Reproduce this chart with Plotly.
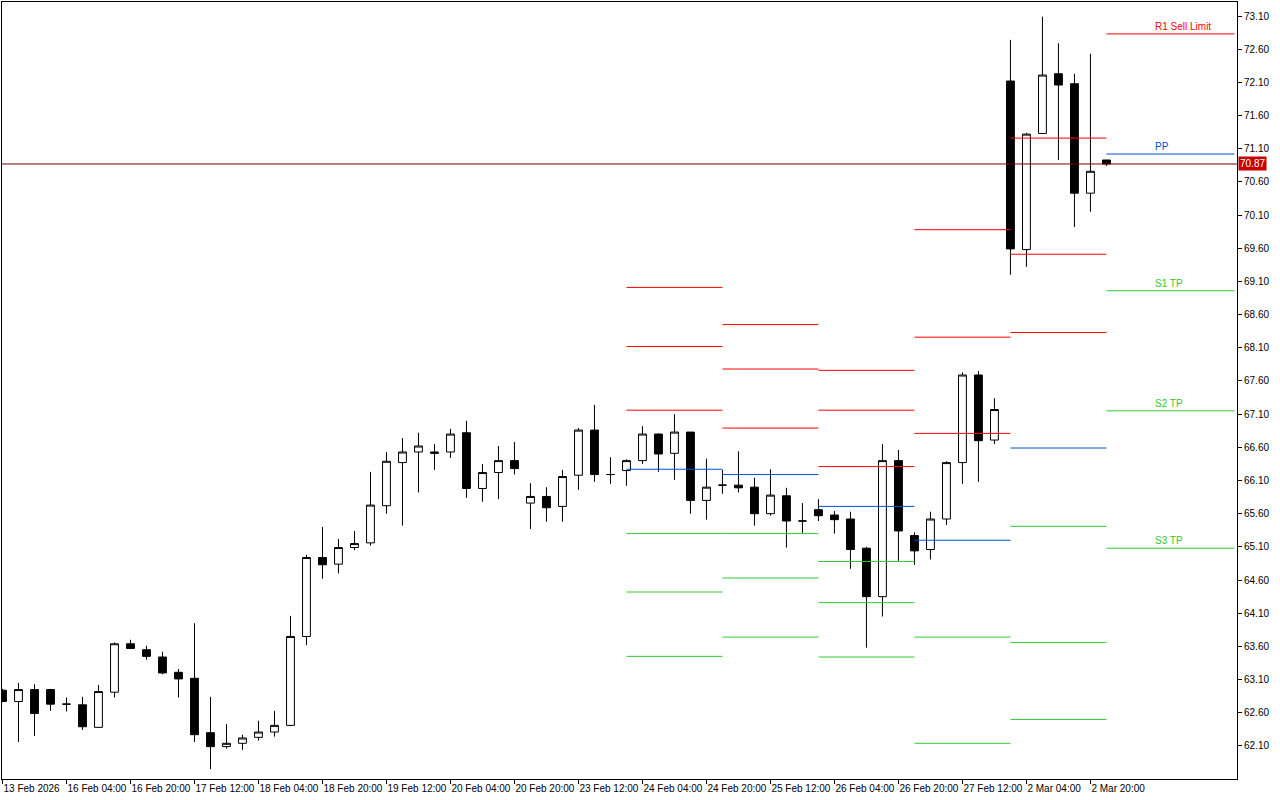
import plotly.graph_objects as go

# H4 candles, index 0 = 13 Feb 2026 12:00 (partly cut at the left edge)
opens = [
    62.94, 62.77, 62.95, 62.95, 62.73, 62.72, 62.38, 62.91, 63.64, 63.55,
    63.44, 63.21, 63.12, 62.30, 62.09, 62.14, 62.23, 62.31, 62.41, 63.75,
    64.94, 64.84, 65.09, 65.16, 65.72, 66.37, 66.53, 66.53, 66.53, 66.82,
    65.98, 66.22, 66.40, 65.76, 65.86, 65.71, 66.18, 66.86, 66.19, 66.25,
    66.40, 66.80, 66.51, 66.83, 65.80, 66.03, 66.03, 66.00, 65.60, 65.87,
    65.49, 65.66, 65.58, 65.52, 65.08, 64.35, 66.40, 65.27, 65.06, 65.52,
    66.37, 67.69, 66.71, 72.12, 69.58, 71.33, 72.23, 72.08, 70.43, 70.93,
]
highs = [
    62.96, 63.05, 63.03, 62.96, 62.83, 62.84, 63.02, 63.66, 63.70, 63.61,
    63.52, 63.26, 63.95, 62.84, 62.43, 62.27, 62.48, 62.63, 64.06, 64.98,
    65.40, 65.22, 65.34, 66.23, 66.53, 66.74, 66.82, 66.65, 66.88, 67.00,
    66.35, 66.62, 66.68, 66.06, 66.00, 66.26, 66.89, 67.24, 66.45, 66.42,
    66.92, 66.81, 67.10, 66.83, 66.43, 66.26, 66.54, 66.14, 66.27, 65.99,
    65.76, 65.82, 65.64, 65.63, 65.10, 66.65, 66.56, 65.32, 65.63, 66.39,
    67.73, 67.75, 67.34, 72.74, 71.34, 73.09, 72.69, 72.23, 72.53, 70.93,
]
lows = [
    62.76, 62.16, 62.25, 62.63, 62.62, 62.34, 62.38, 62.83, 63.56, 63.40,
    63.18, 62.83, 62.16, 61.75, 62.06, 62.04, 62.18, 62.24, 62.40, 63.62,
    64.62, 64.70, 65.05, 65.12, 65.60, 65.42, 65.92, 66.26, 66.44, 65.84,
    65.78, 65.82, 66.19, 65.37, 65.48, 65.48, 65.96, 66.08, 66.05, 66.02,
    66.35, 66.23, 66.11, 65.60, 65.51, 65.90, 65.92, 65.42, 65.57, 65.09,
    65.31, 65.49, 65.30, 64.77, 63.58, 64.05, 64.89, 64.83, 64.91, 65.43,
    66.05, 66.08, 66.65, 69.20, 69.32, 71.33, 70.93, 69.92, 70.15, 70.84,
]
closes = [
    62.77, 62.95, 62.59, 62.73, 62.73, 62.39, 62.92, 63.64, 63.57, 63.45,
    63.20, 63.11, 62.27, 62.09, 62.14, 62.22, 62.31, 62.41, 63.75, 64.94,
    64.83, 65.09, 65.15, 65.73, 66.39, 66.53, 66.62, 66.51, 66.80, 65.98,
    66.22, 66.40, 66.28, 65.86, 65.69, 66.16, 66.86, 66.19, 66.19, 66.40,
    66.80, 66.50, 66.83, 65.80, 66.00, 66.03, 65.99, 65.60, 65.88, 65.49,
    65.49, 65.57, 65.51, 65.06, 64.35, 66.40, 65.34, 65.04, 65.52, 66.37,
    67.69, 66.70, 67.17, 69.59, 71.32, 72.21, 72.06, 70.43, 70.76, 70.87,
]

time_idx = [0, 4, 8, 12, 16, 20, 24, 28, 32, 36, 40, 44, 48, 52, 56, 60, 64, 68]
time_labels = [
    "13 Feb 2026", "16 Feb 04:00", "16 Feb 20:00", "17 Feb 12:00", "18 Feb 04:00",
    "18 Feb 20:00", "19 Feb 12:00", "20 Feb 04:00", "20 Feb 20:00", "23 Feb 12:00",
    "24 Feb 04:00", "24 Feb 20:00", "25 Feb 12:00", "26 Feb 04:00", "26 Feb 20:00",
    "27 Feb 12:00", "2 Mar 04:00", "2 Mar 20:00",
]
price_ticks = [
    62.10, 62.60, 63.10, 63.60, 64.10, 64.60, 65.10, 65.60, 66.10, 66.60, 67.10, 67.60,
    68.10, 68.60, 69.10, 69.60, 70.10, 70.60, 71.10, 71.60, 72.10, 72.60, 73.10,
]
price_labels = [
    "62.10", "62.60", "63.10", "63.60", "64.10", "64.60", "65.10", "65.60", "66.10",
    "66.60", "67.10", "67.60", "68.10", "68.60", "69.10", "69.60", "70.10", "70.60",
    "71.10", "71.60", "72.10", "72.60", "73.10",
]
last_price = 70.87

# daily pivot levels, one segment per trading day
seg_start = [39, 45, 51, 57, 63, 69]
seg_end = [45, 51, 57, 63, 69, 77]
r3 = [69.01, 68.45, 67.76, 69.88, 71.26, None]
r2 = [68.12, 67.78, 67.16, 68.26, 69.51, None]
r1 = [67.16, 66.89, 66.31, 66.81, 68.33, 72.83]
pp = [66.27, 66.19, 65.71, 65.20, 66.59, 71.02]
s1 = [65.30, 65.30, 64.88, 63.74, 65.41, 68.96]
s2 = [64.42, 64.63, 64.26, 62.14, 63.66, 67.15]
s3 = [63.45, 63.74, 63.44, None, 62.50, 65.08]

RED = "#FF0000"
BLUE = "#0050DC"
GREEN = "#32C832"
FONT = "Liberation Sans, Arial, sans-serif"


def _segments(level_lists):
    xs, ys = [], []
    for levels in level_lists:
        for a, b, v in zip(seg_start, seg_end, levels):
            if v is None:
                continue
            xs += [a, b, None]
            ys += [v, v, None]
    return xs, ys


fig = go.Figure()

fig.add_trace(
    go.Candlestick(
        x=list(range(len(opens))),
        open=opens,
        high=highs,
        low=lows,
        close=closes,
        increasing=dict(line=dict(color="black", width=1), fillcolor="white"),
        decreasing=dict(line=dict(color="black", width=1), fillcolor="black"),
        whiskerwidth=0,
        hoverinfo="skip",
    )
)

for levels, colour in [([r3, r2, r1], RED), ([pp], BLUE), ([s1, s2, s3], GREEN)]:
    xs, ys = _segments(levels)
    fig.add_trace(
        go.Scatter(x=xs, y=ys, mode="lines", line=dict(color=colour, width=1), hoverinfo="skip")
    )

# bid line
fig.add_hline(y=last_price, line=dict(color="#700000", width=1))

labels = [
    ("R1 Sell Limit", r1[-1], RED),
    ("PP", pp[-1], BLUE),
    ("S1 TP", s1[-1], GREEN),
    ("S2 TP", s2[-1], GREEN),
    ("S3 TP", s3[-1], GREEN),
]
for text, y, colour in labels:
    fig.add_annotation(
        x=71.9, y=y, text=text, showarrow=False,
        xanchor="left", yanchor="bottom", yshift=0,
        font=dict(family=FONT, size=10, color=colour),
    )

fig.add_annotation(
    xref="paper", x=1, y=last_price, text=f"{last_price:.2f}", showarrow=False,
    xanchor="left", yanchor="middle", xshift=1,
    bgcolor="#C80000", borderpad=1,
    font=dict(family=FONT, size=10, color="white"),
)

fig.update_layout(
    width=1280,
    height=800,
    margin=dict(l=2, r=43, t=2, b=21),
    paper_bgcolor="white",
    plot_bgcolor="white",
    showlegend=False,
    font=dict(family=FONT, size=10, color="black"),
    xaxis=dict(
        range=[-0.03, 77.16],
        rangeslider=dict(visible=False),
        automargin=False,
        showgrid=False,
        zeroline=False,
        showline=True,
        mirror=True,
        linecolor="black",
        linewidth=1,
        ticks="outside",
        ticklen=4,
        tickcolor="black",
        tickmode="array",
        tickvals=time_idx,
        ticktext=time_labels,
        tickangle=0,
        ticklabelposition="outside right",
        tickfont=dict(family=FONT, size=10, color="black"),
    ),
    yaxis=dict(
        side="right",
        range=[61.602, 73.311],
        automargin=False,
        showgrid=False,
        zeroline=False,
        showline=True,
        mirror=True,
        linecolor="black",
        linewidth=1,
        ticks="outside",
        ticklen=4,
        tickcolor="black",
        tickmode="array",
        tickvals=price_ticks,
        ticktext=price_labels,
        tickfont=dict(family=FONT, size=10, color="black"),
    ),
)

fig.write_html(
    "out.html",
    config={"displayModeBar": False},
    post_script="document.body.style.margin='0';",
)
